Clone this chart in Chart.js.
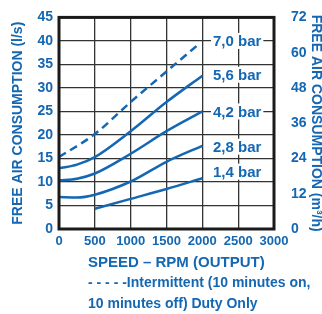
<!DOCTYPE html>
<html>
<head>
<meta charset="utf-8">
<script src="https://cdn.jsdelivr.net/npm/chart.js@4"></script>
<style>
  html, body { margin: 0; padding: 0; background: #fff; }
  #wrap { width: 322px; height: 314px; position: relative; }
</style>
</head>
<body>
<div id="wrap"><canvas id="chart" width="322" height="314"></canvas></div>
<script>
// 곡선 데이터 (회전수 rpm -> 공기 소비량 l/s)
const rpm70 = [0, 500, 1000, 1500, 1950];
const flow70 = [15.3, 20.2, 27.0, 33.5, 39.3];
const rpm56 = [0, 250, 500, 1000, 1500, 2000];
const flow56 = [12.9, 13.7, 15.3, 20.8, 27.0, 32.6];
const rpm42 = [0, 250, 500, 1000, 1500, 2000];
const flow42 = [10.3, 10.7, 11.8, 16.0, 20.8, 25.0];
const rpm28 = [0, 250, 500, 1000, 1500, 2000];
const flow28 = [6.8, 6.7, 7.3, 10.1, 14.3, 17.7];
const rpm14 = [500, 1000, 1500, 2000];
const flow14 = [4.3, 6.4, 8.5, 10.8];

// 곡선 라벨 (압력) 과 라벨 위치 값
const pressLabels = ["7,0 bar", "5,6 bar", "4,2 bar", "2,8 bar", "1,4 bar"];
const pressLabelY = [40, 32.8, 25, 17.5, 12.2];
const pressLabelX = 2500;

// 축 눈금
const xTicks = [0, 500, 1000, 1500, 2000, 2500, 3000];
const yLeftTicks = [0, 5, 10, 15, 20, 25, 30, 35, 40, 45];
const yRightTicks = [0, 12, 24, 36, 48, 60, 72];

const BLUE = "#1467b3";
const FONT = "'Liberation Sans', Arial, sans-serif";

const pts = (xs, ys) => xs.map((x, i) => ({ x, y: ys[i] }));
const line = (xs, ys, dash) => ({
  data: pts(xs, ys),
  borderColor: BLUE,
  borderWidth: 2.5,
  borderDash: dash || [],
  pointRadius: 0,
  fill: false,
  cubicInterpolationMode: "monotone",
  yAxisID: "y",
});

const overlay = {
  id: "overlay",
  afterDraw(chart) {
    const { ctx, chartArea: a, scales } = chart;
    ctx.save();
    // 테두리
    ctx.strokeStyle = "#1a1a1a";
    ctx.lineWidth = 3;
    ctx.strokeRect(a.left, a.top, a.right - a.left, a.bottom - a.top);

    // 곡선 라벨
    ctx.font = "bold 15px " + FONT;
    ctx.textAlign = "center";
    ctx.textBaseline = "middle";
    pressLabels.forEach((t, i) => {
      const x = scales.x.getPixelForValue(pressLabelX) - 1;
      const y = scales.y.getPixelForValue(pressLabelY[i]);
      const w = ctx.measureText(t).width + 4;
      ctx.fillStyle = "#fff";
      ctx.fillRect(x - w / 2, y - 8, w, 16);
      ctx.fillStyle = BLUE;
      ctx.fillText(t, x, y + 1);
    });

    // 축 제목
    ctx.font = "bold 14px " + FONT;
    ctx.fillStyle = BLUE;
    const cy = (a.top + a.bottom) / 2;
    ctx.save();
    ctx.translate(18, cy);
    ctx.rotate(-Math.PI / 2);
    ctx.fillText("FREE AIR CONSUMPTION (l/s)", 0, 0);
    ctx.restore();
    ctx.save();
    ctx.translate(316, cy);
    ctx.rotate(Math.PI / 2);
    ctx.fillText("FREE AIR CONSUMPTION (m³/h)", 0, 0);
    ctx.restore();

    // 아래 설명
    ctx.textAlign = "left";
    ctx.font = "bold 15px " + FONT;
    ctx.fillText("SPEED – RPM (OUTPUT)", 88, 263);
    ctx.font = "bold 14px " + FONT;
    ctx.fillText("- - - - -Intermittent (10 minutes on,", 88, 283);
    ctx.fillText("10 minutes off) Duty Only", 88, 304);
    ctx.restore();
  }
};

const tickFont = { family: FONT, size: 14, weight: "bold" };

new Chart(document.getElementById("chart"), {
  type: "line",
  data: {
    datasets: [
      line(rpm70, flow70, [8, 5]),
      line(rpm56, flow56),
      line(rpm42, flow42),
      line(rpm28, flow28),
      line(rpm14, flow14),
    ]
  },
  options: {
    responsive: false,
    animation: false,
    layout: { padding: { top: 11, left: 0, right: 0, bottom: 0 } },
    plugins: { legend: { display: false }, tooltip: { enabled: false } },
    scales: {
      x: {
        type: "linear", min: 0, max: 3000,
        afterBuildTicks: s => { s.ticks = xTicks.map(v => ({ value: v })); },
        afterFit: s => { s.height = 85; },
        grid: { color: "#333", lineWidth: 1.3, drawTicks: false },
        border: { display: false },
        ticks: { color: BLUE, padding: 5, maxRotation: 0, autoSkip: false,
                 callback: v => String(v), font: { ...tickFont, size: 13 } },
      },
      y: {
        position: "left", min: 0, max: 45,
        afterBuildTicks: s => { s.ticks = yLeftTicks.map(v => ({ value: v })); },
        afterFit: s => { s.width = 59; },
        grid: { color: "#333", lineWidth: 1.3, drawTicks: false },
        border: { display: false },
        ticks: { color: BLUE, padding: 6, autoSkip: false, font: tickFont },
      },
      y2: {
        position: "right", min: 0, max: 72,
        afterBuildTicks: s => { s.ticks = yRightTicks.map(v => ({ value: v })); },
        afterFit: s => { s.width = 48; },
        grid: { display: false },
        border: { display: false },
        ticks: { color: BLUE, padding: 9, autoSkip: false, font: tickFont },
      }
    }
  },
  plugins: [overlay]
});
</script>
</body>
</html>
